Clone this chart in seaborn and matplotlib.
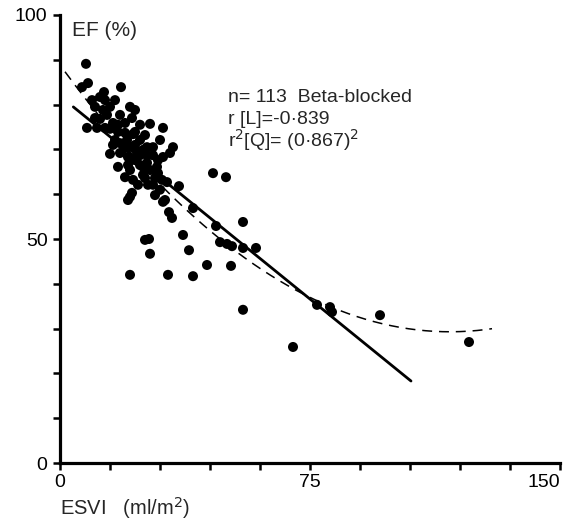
import numpy as np
import pandas as pd
import matplotlib
matplotlib.use("Agg")
import matplotlib.pyplot as plt
import seaborn as sns

# === Data ===
esvi = [
    7.8, 8.4, 6.6, 18.3, 9.6, 12.0, 13.2, 10.5, 15.0, 18.0,
    22.5, 21.6, 14.1, 15.9, 11.1, 8.1, 13.5, 17.4, 19.5, 22.5,
    20.1, 18.0, 21.6, 23.1, 15.0, 18.0, 20.4, 26.1, 27.9, 26.1,
    27.9, 30.9, 33.0, 33.9, 30.9, 17.4, 19.5, 21.0, 22.5, 24.0,
    26.1, 27.0, 29.1, 24.9, 23.4, 26.4, 27.9, 29.4, 30.6, 21.0,
    20.4, 21.6, 30.9, 16.5, 12.9, 19.5, 24.0, 16.5, 19.5, 24.0,
    25.5, 22.5, 24.0, 29.4, 24.9, 21.9, 28.5, 30.0, 32.1, 15.0,
    12.0, 27.0, 21.0, 24.9, 21.9, 31.5, 25.5, 28.5, 15.9, 10.5,
    13.5, 30.0, 20.4, 17.4,
    21.0, 27.0, 32.4, 38.7, 39.9, 44.1, 51.3, 54.9, 69.9, 77.1,
    81.0, 81.6, 96.0, 122.7, 25.5, 26.7, 36.9, 48.0, 50.1, 51.6,
    54.9, 58.8, 46.8, 54.9, 32.7, 33.6, 39.9, 35.7, 45.9, 49.8,
]
ef = [
    89.1, 84.8, 83.9, 83.9, 81.0, 81.7, 82.8, 79.5, 79.5, 77.7,
    78.8, 77.0, 77.7, 75.9, 74.8, 74.8, 74.8, 73.9, 73.7, 73.9,
    72.1, 71.4, 70.5, 69.4, 69.0, 69.2, 68.3, 70.5, 70.5, 68.7,
    68.7, 68.3, 69.2, 70.5, 74.8, 66.1, 63.8, 65.4, 67.6, 66.5,
    67.0, 65.4, 66.1, 64.3, 62.1, 62.1, 62.1, 64.7, 63.2, 59.4,
    58.7, 60.3, 58.3, 81.0, 78.8, 75.9, 75.5, 72.1, 70.3, 72.1,
    73.2, 71.0, 68.7, 67.6, 66.1, 63.2, 59.8, 61.0, 62.7, 74.6,
    76.8, 75.7, 79.5, 69.9, 73.4, 58.7, 63.6, 63.6, 71.0, 77.0,
    81.0, 72.1, 66.5, 75.5,
    42.0, 46.7, 42.0, 47.5, 41.7, 44.2, 44.0, 34.2, 25.9, 35.3,
    34.8, 33.7, 33.0, 27.0, 49.8, 50.0, 50.9, 49.3, 48.9, 48.4,
    48.0, 48.0, 52.9, 53.8, 56.0, 54.7, 56.9, 61.8, 64.7, 63.8,
]

# fitted curves as printed
lin_coef = [81.9, -0.604]            # EF = a + b*ESVI
lin_range = [4.0, 105.3]
quad_coef = [88.85, -1.018, 0.00435]  # EF = a + b*x + c*x^2
quad_range = [1.5, 129.6]

xticks = list(range(0, 151, 15))
xticklabels = ["0" if t == 0 else "75" if t == 75 else "150" if t == 150 else "" for t in xticks]
yticks = list(range(0, 101, 10))
yticklabels = [str(t) if t in (0, 50, 100) else "" for t in yticks]

df = pd.DataFrame({"ESVI": esvi, "EF": ef})

xl = np.linspace(*lin_range, 50)
lin_df = pd.DataFrame({"x": xl, "y": lin_coef[0] + lin_coef[1] * xl})
xq = np.linspace(*quad_range, 200)
quad_df = pd.DataFrame({"x": xq, "y": quad_coef[0] + quad_coef[1] * xq + quad_coef[2] * xq ** 2})

# === Plot ===
sns.set_theme(style="white")
plt.rcParams["font.family"] = ["Liberation Sans", "DejaVu Sans"]

fig = plt.figure(figsize=(5.77, 5.21), dpi=100)
ax = fig.add_axes([60 / 577, 58 / 521, 500 / 577, 448 / 521])

sns.scatterplot(data=df, x="ESVI", y="EF", ax=ax, color="black", s=52,
                edgecolor="none", zorder=3)
sns.lineplot(data=lin_df, x="x", y="y", ax=ax, color="black", linewidth=2.0, zorder=2)
sns.lineplot(data=quad_df, x="x", y="y", ax=ax, color="black", linewidth=1.1,
             linestyle=(0, (6.5, 4.5)), zorder=2)

ax.set_xlim(0, 150)
ax.set_ylim(0, 100)
ax.set_xticks(xticks)
ax.set_xticklabels(xticklabels)
ax.set_yticks(yticks)
ax.set_yticklabels(yticklabels)
ax.set_xlabel("")
ax.set_ylabel("")

for side in ["top", "right"]:
    ax.spines[side].set_visible(False)
for side in ["left", "bottom"]:
    ax.spines[side].set_color("black")
    ax.spines[side].set_linewidth(2.3)

ax.tick_params(axis="both", which="both", direction="out", length=5, width=1.8,
               colors="black", labelsize=14, left=True, bottom=True)
ax.tick_params(axis="x", pad=3)
ax.tick_params(axis="y", pad=4)
ax.get_xticklabels()[-1].set_ha("right")
ax.get_xticklabels()[-1].set_x(152)

ax.text(3.5, 96.5, "EF (%)", fontsize=15, va="center", ha="left")
fig.text(60 / 577, 1 - 515 / 521, "ESVI   (ml/m$^2$)", fontsize=14.5, va="baseline", ha="left")

ax.text(50.5, 81.6, "n= 113  Beta-blocked", fontsize=14, va="center", ha="left")
ax.text(50.5, 76.7, "r [L]=-0·839", fontsize=14, va="center", ha="left")
ax.text(50.5, 72.1, "r$^2$[Q]= (0·867)$^2$", fontsize=14, va="center", ha="left")

fig.savefig("out.png", dpi=100)
plt.close(fig)
